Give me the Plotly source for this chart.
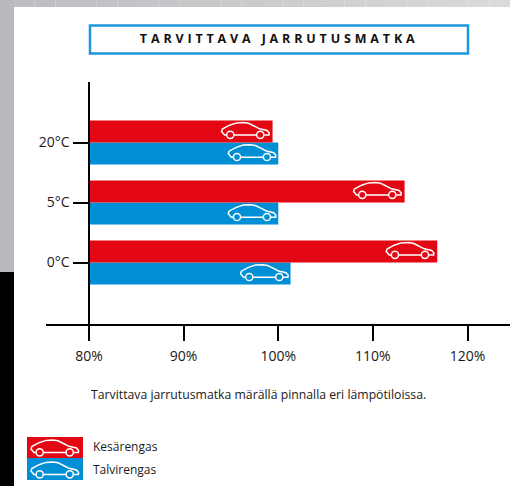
import plotly.graph_objects as go

W, H = 510, 486
title = "TARVITTAVA JARRUTUSMATKA"
caption = "Tarvittava jarrutusmatka märällä pinnalla eri lämpötiloissa."
categories = ["0°C", "5°C", "20°C"]
positions = [0, 1, 2]
summer_name = "Kesärengas"
winter_name = "Talvirengas"
summer_values = [116.8, 113.35, 99.4]
winter_values = [101.3, 100.0, 100.0]
x_ticks = [80, 90, 100, 110, 120]
x_labels = ["80%", "90%", "100%", "110%", "120%"]

RED = "#e30613"
BLUE = "#008fd5"
FONT = "Open Sans"


def px(v):
    return v / W


def py(v):
    return 1 - v / H


def circle(cx, cy, r):
    k = 0.5523 * r
    return (f"M{cx + r},{cy} C{cx + r},{cy + k} {cx + k},{cy + r} {cx},{cy + r} "
            f"C{cx - k},{cy + r} {cx - r},{cy + k} {cx - r},{cy} "
            f"C{cx - r},{cy - k} {cx - k},{cy - r} {cx},{cy - r} "
            f"C{cx + k},{cy - r} {cx + r},{cy - k} {cx + r},{cy} Z")


def car_path(dx):
    body = [(-19.1, -4.6), (-21, -4.6), (-24, -1), (-23.2, 1.5), (-16, 5.3), (-9, 7.6), (-2, 8), (3, 7.2),
            (7.5, 5), (14, 1.7), (21.5, 0), (23.6, -2.5), (23.4, -4.6), (18.5, -4.6)]
    line = "M" + " L".join(f"{x + dx},{y}" for x, y in body)
    bottom = f"M{-11.5 + dx},-4.6 L{10.9 + dx},-4.6"
    return " ".join([line, bottom, circle(-15.3 + dx, -4.3, 3.6), circle(14.7 + dx, -4.3, 3.6)])


def car_shape(xanchor, yanchor, xref, yref, dx):
    return dict(type="path", path=car_path(dx), xsizemode="pixel", ysizemode="pixel",
                xanchor=xanchor, yanchor=yanchor, xref=xref, yref=yref,
                line=dict(color="white", width=1.5), fillcolor="rgba(0,0,0,0)", layer="above")


shapes = []
# page background of the scanned sheet
shapes.append(dict(type="rect", xref="paper", yref="paper", x0=0, x1=px(14), y0=py(272), y1=1,
                   fillcolor="#bab9bd", line_width=0, layer="below"))
shapes.append(dict(type="rect", xref="paper", yref="paper", x0=0, x1=px(14), y0=0, y1=py(272),
                   fillcolor="#000000", line_width=0, layer="below"))
steps = 24
for i in range(steps):
    t = i / (steps - 1)
    r = int(190 + t * 28)
    g = int(189 + t * 29)
    b = int(194 + t * 24)
    shapes.append(dict(type="rect", xref="paper", yref="paper",
                       x0=px(14 + i * 496 / steps), x1=px(14 + (i + 1) * 496 / steps),
                       y0=py(7), y1=1, fillcolor=f"rgb({r},{g},{b})", line_width=0, layer="below"))
# title box
shapes.append(dict(type="rect", xref="paper", yref="paper", x0=px(90), x1=px(468), y0=py(53.5), y1=py(25.5),
                   fillcolor="white", line=dict(color="#1b97da", width=2.5), layer="below"))
# legend swatches
shapes.append(dict(type="rect", xref="paper", yref="paper", x0=px(27), x1=px(83), y0=py(458), y1=py(437),
                   fillcolor=RED, line_width=0, layer="below"))
shapes.append(dict(type="rect", xref="paper", yref="paper", x0=px(27), x1=px(83), y0=py(480), y1=py(458),
                   fillcolor=BLUE, line_width=0, layer="below"))
shapes.append(car_shape(px(55), py(448), "paper", "paper", 0))
shapes.append(car_shape(px(55), py(470), "paper", "paper", 0))
# cars inside the bars, anchored to the bar ends
for p, s, w in zip(positions, summer_values, winter_values):
    shapes.append(car_shape(s, p + 0.2, "x", "y", -27))
    shapes.append(car_shape(w, p - 0.17, "x", "y", -26))

fig = go.Figure()
fig.add_bar(name=winter_name, y=positions, x=[v - 80 for v in winter_values], base=80,
            orientation="h", marker=dict(color=BLUE, line_width=0))
fig.add_bar(name=summer_name, y=positions, x=[v - 80 for v in summer_values], base=80,
            orientation="h", marker=dict(color=RED, line_width=0))

annotations = [
    dict(text=f"<b>{title}</b>", xref="paper", yref="paper", x=px(279), y=py(38.5), showarrow=False,
         xanchor="center", yanchor="middle", font=dict(size=12.5, color="#111", family=FONT)),
    dict(text=caption, xref="paper", yref="paper", x=px(91), y=py(394.5), showarrow=False,
         xanchor="left", yanchor="middle", font=dict(size=12.25, color="#1a1a1a", family=FONT), xshift=-2),
    dict(text=summer_name, xref="paper", yref="paper", x=px(93), y=py(446.5), showarrow=False,
         xanchor="left", yanchor="middle", font=dict(size=12, color="#1a1a1a", family=FONT), xshift=-2),
    dict(text=winter_name, xref="paper", yref="paper", x=px(93), y=py(469.5), showarrow=False,
         xanchor="left", yanchor="middle", font=dict(size=12, color="#1a1a1a", family=FONT), xshift=-2),
]

x_per_px = 20 / 189.5
fig.update_layout(
    width=W, height=H, margin=dict(l=0, r=0, t=0, b=0), autosize=False,
    paper_bgcolor="white", plot_bgcolor="rgba(0,0,0,0)", showlegend=False,
    barmode="group", bargap=16 / 60, bargroupgap=0,
    font=dict(family=FONT, color="#1a1a1a"),
    shapes=shapes, annotations=annotations,
    xaxis=dict(domain=[px(45.5), 1], range=[80 - 43.5 * x_per_px, 80 + 421.5 * x_per_px],
               tickmode="array", tickvals=x_ticks, ticktext=x_labels,
               ticks="outside", ticklen=15, tickwidth=2, tickcolor="black",
               showline=True, linecolor="black", linewidth=2, showgrid=False, zeroline=False,
               anchor="y", tickfont=dict(size=14, family=FONT, color="#1a1a1a"), ticklabelstandoff=4),
    yaxis=dict(domain=[py(323.5), py(81.5)], range=[-61 / 60, 2 + 61 / 60],
               tickmode="array", tickvals=positions, ticktext=categories,
               ticks="outside", ticklen=15, tickwidth=2, tickcolor="black",
               showline=True, linecolor="black", linewidth=2, showgrid=False, zeroline=False,
               anchor="free", position=px(88.5), tickfont=dict(size=14, family=FONT, color="#1a1a1a")),
)

post = """
document.documentElement.style.margin='0';
document.body.style.margin='0';
document.body.style.overflow='hidden';
document.querySelectorAll('.annotation-text').forEach(function(t){
  if(t.textContent.indexOf('TARVITTAVA')===0){t.style.letterSpacing='3.85px';}
});
"""
fig.write_html("out.html", post_script=post, config={"displayModeBar": False})
